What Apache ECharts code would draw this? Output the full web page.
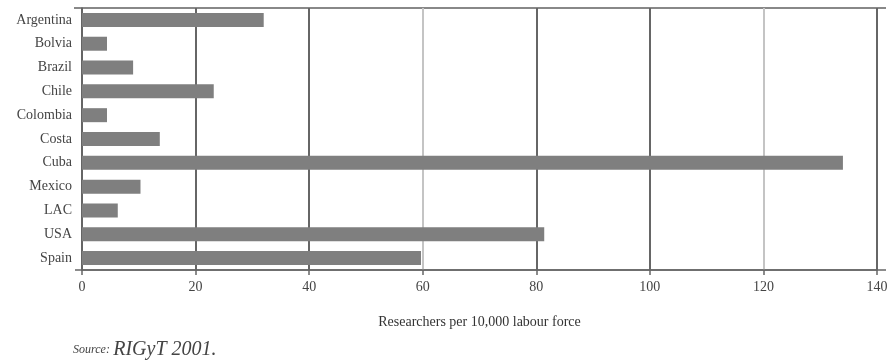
<!DOCTYPE html>
<html><head><meta charset="utf-8">
<script src="https://cdn.jsdelivr.net/npm/echarts@6/dist/echarts.min.js"></script>
<style>html,body{margin:0;padding:0;background:#fff}#c{width:889px;height:364px}</style>
</head><body><div id="c"></div>
<script>
const categories = ['Argentina','Bolvia','Brazil','Chile','Colombia','Costa','Cuba','Mexico','LAC','USA','Spain'];
const values = [32, 4.4, 9, 23.2, 4.4, 13.7, 134, 10.3, 6.3, 81.4, 59.7];
const xTicks = [0, 20, 40, 60, 80, 100, 120, 140];
const axisTitle = 'Researchers per 10,000 labour force';
const sourceLabel = 'Source:';
const sourceText = 'RIGyT 2001.';

const chart = echarts.init(document.getElementById('c'));
const font = '"Liberation Serif", "DejaVu Serif", serif';
chart.setOption({
  animation: false,
  backgroundColor: '#fff',
  grid: { left: 82, right: 12, top: 8, bottom: 94, show: false, outerBoundsMode: 'none', containLabel: false },
  xAxis: {
    type: 'value', min: xTicks[0], max: xTicks[xTicks.length - 1], interval: 20,
    name: axisTitle, nameLocation: 'middle', nameGap: 45,
    nameTextStyle: { fontFamily: font, fontSize: 14, color: '#333' },
    axisLine: { show: true, lineStyle: { color: '#666', width: 1.5 } },
    axisTick: { show: true, length: 5, lineStyle: { color: '#666', width: 1.5 } },
    axisLabel: { fontFamily: font, fontSize: 14, color: '#444', margin: 10 },
    splitLine: { show: true, lineStyle: { color: ['#666','#666','#666','#c4c4c4','#666','#666','#c4c4c4','#666'], width: 2 } }
  },
  yAxis: {
    type: 'category', data: categories, inverse: true,
    axisLine: { show: true, lineStyle: { color: '#666', width: 1.5 } },
    axisTick: { show: false },
    axisLabel: { fontFamily: font, fontSize: 14, color: '#444', margin: 10 }
  },
  graphic: [
    { type: 'line', shape: { x1: 74, y1: 8, x2: 886, y2: 8 }, style: { stroke: '#888', lineWidth: 2 } },
    { type: 'line', shape: { x1: 75, y1: 270, x2: 886, y2: 270 }, style: { stroke: '#666', lineWidth: 1.5 } },
    { type: 'text', left: 73, top: 340, style: {
      text: '{a|' + sourceLabel + '} {b|' + sourceText + '}',
      rich: {
        a: { fontFamily: font, fontStyle: 'italic', fontSize: 12, fill: '#444' },
        b: { fontFamily: font, fontStyle: 'italic', fontSize: 20, fill: '#444' }
      }
    } }
  ],
  series: [{
    type: 'bar', data: values, barWidth: 14,
    itemStyle: { color: '#7f7f7f' }
  }]
});
</script></body></html>
